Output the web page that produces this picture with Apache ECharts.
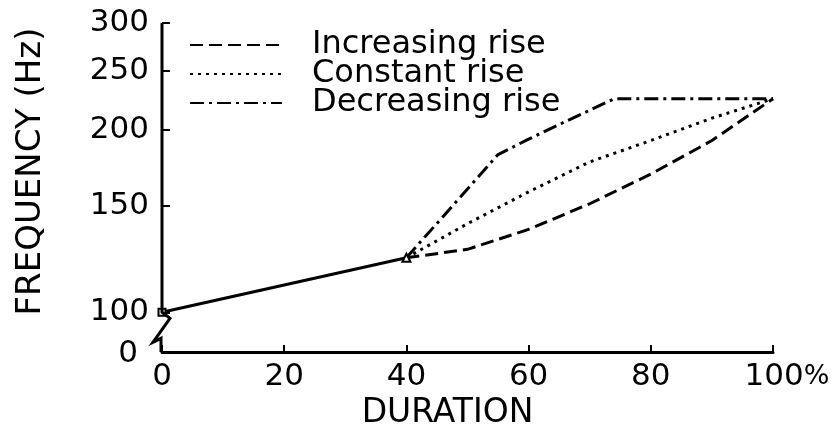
<!DOCTYPE html>
<html lang="en">
<head>
  <meta charset="UTF-8">
  <title>Frequency rise</title>
  <script src="https://cdn.jsdelivr.net/npm/echarts@6/dist/echarts.min.js"></script>
  <style>
    html, body { margin: 0; background: #fff; }
    #chart { width: 837px; height: 427px; }
  </style>
</head>
<body>
  <div id="chart"></div>
<script>
  // values (duration in %, frequency in Hz)
  let durationTicks = [0, 20, 40, 60, 80, 100]
  let freqTicks = [100, 150, 200, 250, 300]
  let axisFloor = 86 // bottom of the broken axis, shown as 0
  let common = [[0, 100], [40, 123]]
  let increasing = [[40, 123], [50, 127], [60, 137], [70, 151], [80, 169], [90, 192], [100, 225]]
  let constant = [[40, 123], [50, 140], [60, 158], [70, 177], [80, 192], [90, 209], [100, 225]]
  let decreasing = [[40, 123], [55, 182], [60, 193], [65, 204], [74, 225], [100, 225]]
  let names = ['Increasing rise', 'Constant rise', 'Decreasing rise']

  let font = 'DejaVu Sans'
  let chart = echarts.init(document.getElementById('chart'))

  function riseLine(name, data, type) {
    return {
      name: name,
      type: 'line',
      data: data,
      symbol: 'none',
      silent: true,
      itemStyle: { color: '#000' },
      lineStyle: { color: '#000', width: 3, type: type }
    }
  }

  chart.setOption({
    animation: false,
    backgroundColor: '#fff',
    grid: { left: 162, right: 64, top: 23, bottom: 75, outerBoundsMode: 'none' },
    legend: {
      data: names,
      orient: 'vertical',
      left: 184,
      top: 24,
      itemGap: -3,
      itemWidth: 92,
      itemHeight: 14,
      selectedMode: false,
      itemStyle: { opacity: 0 },
      textStyle: { fontFamily: font, fontSize: 32, color: '#000', lineHeight: 28, padding: [0, 0, 0, 25] }
    },
    xAxis: {
      type: 'value',
      min: 0,
      max: 100,
      interval: 20,
      name: 'DURATION',
      nameLocation: 'middle',
      nameGap: 42,
      nameTextStyle: { fontFamily: font, fontSize: 33, color: '#000', padding: [0, 40, 0, 0] },
      axisLine: { lineStyle: { color: '#000', width: 3 } },
      axisTick: { inside: true, length: 7, lineStyle: { color: '#000', width: 2 } },
      splitLine: { show: false },
      axisLabel: {
        margin: 9,
        fontFamily: font,
        fontSize: 31,
        color: '#000',
        formatter: v => v === 100 ? '{pad|}100{p|%}' : String(v),
        rich: {
          pad: { width: 28 },
          p: { fontFamily: font, fontSize: 27, color: '#000' }
        }
      }
    },
    yAxis: {
      type: 'log',
      min: axisFloor,
      max: 300,
      name: 'FREQUENCY (Hz)',
      nameLocation: 'middle',
      nameGap: 114,
      nameTextStyle: { fontFamily: font, fontSize: 34, color: '#000', padding: [0, 0, 0, 32] },
      axisLine: { show: false },
      splitLine: { show: false },
      axisTick: {
        show: true,
        inside: true,
        length: 8,
        customValues: freqTicks,
        lineStyle: { color: '#000', width: 2 }
      },
      axisLabel: {
        margin: 13,
        fontFamily: font,
        fontSize: 31,
        color: '#000',
        customValues: [axisFloor].concat(freqTicks),
        formatter: v => v < 100 ? '{z|0}' : String(Math.round(v)),
        rich: {
          z: { fontFamily: font, fontSize: 31, color: '#000', padding: [4, 11, 0, 0] }
        }
      }
    },
    series: [
      {
        name: 'common',
        type: 'line',
        silent: true,
        data: [
          { value: common[0], symbol: 'rect', symbolSize: 7 },
          { value: common[1], symbol: 'triangle', symbolSize: 8 }
        ],
        itemStyle: { color: '#fff', borderColor: '#000', borderWidth: 2 },
        lineStyle: { color: '#000', width: 3 }
      },
      riseLine(names[0], increasing, [13, 6]),
      riseLine(names[1], constant, [3, 5]),
      riseLine(names[2], decreasing, [14, 5, 3, 5])
    ]
  })

  // vertical axis drawn by hand so it can carry the break mark below 100 Hz
  let pTop = chart.convertToPixel({ gridIndex: 0 }, [0, 300])
  let pBase = chart.convertToPixel({ gridIndex: 0 }, [0, 100])
  let pFloor = chart.convertToPixel({ gridIndex: 0 }, [0, axisFloor])
  let x0 = pTop[0]
  chart.setOption({
    graphic: [{
      type: 'polyline',
      z: 10,
      shape: {
        points: [
          [x0, pTop[1]],
          [x0, pBase[1]],
          [x0 + 8, pBase[1] + 6],
          [x0 - 9, pBase[1] + 30],
          [x0 - 1, pBase[1] + 26],
          [x0 - 1, pFloor[1]]
        ]
      },
      style: { stroke: '#000', lineWidth: 3, fill: null }
    }]
  })
</script>
</body>
</html>
